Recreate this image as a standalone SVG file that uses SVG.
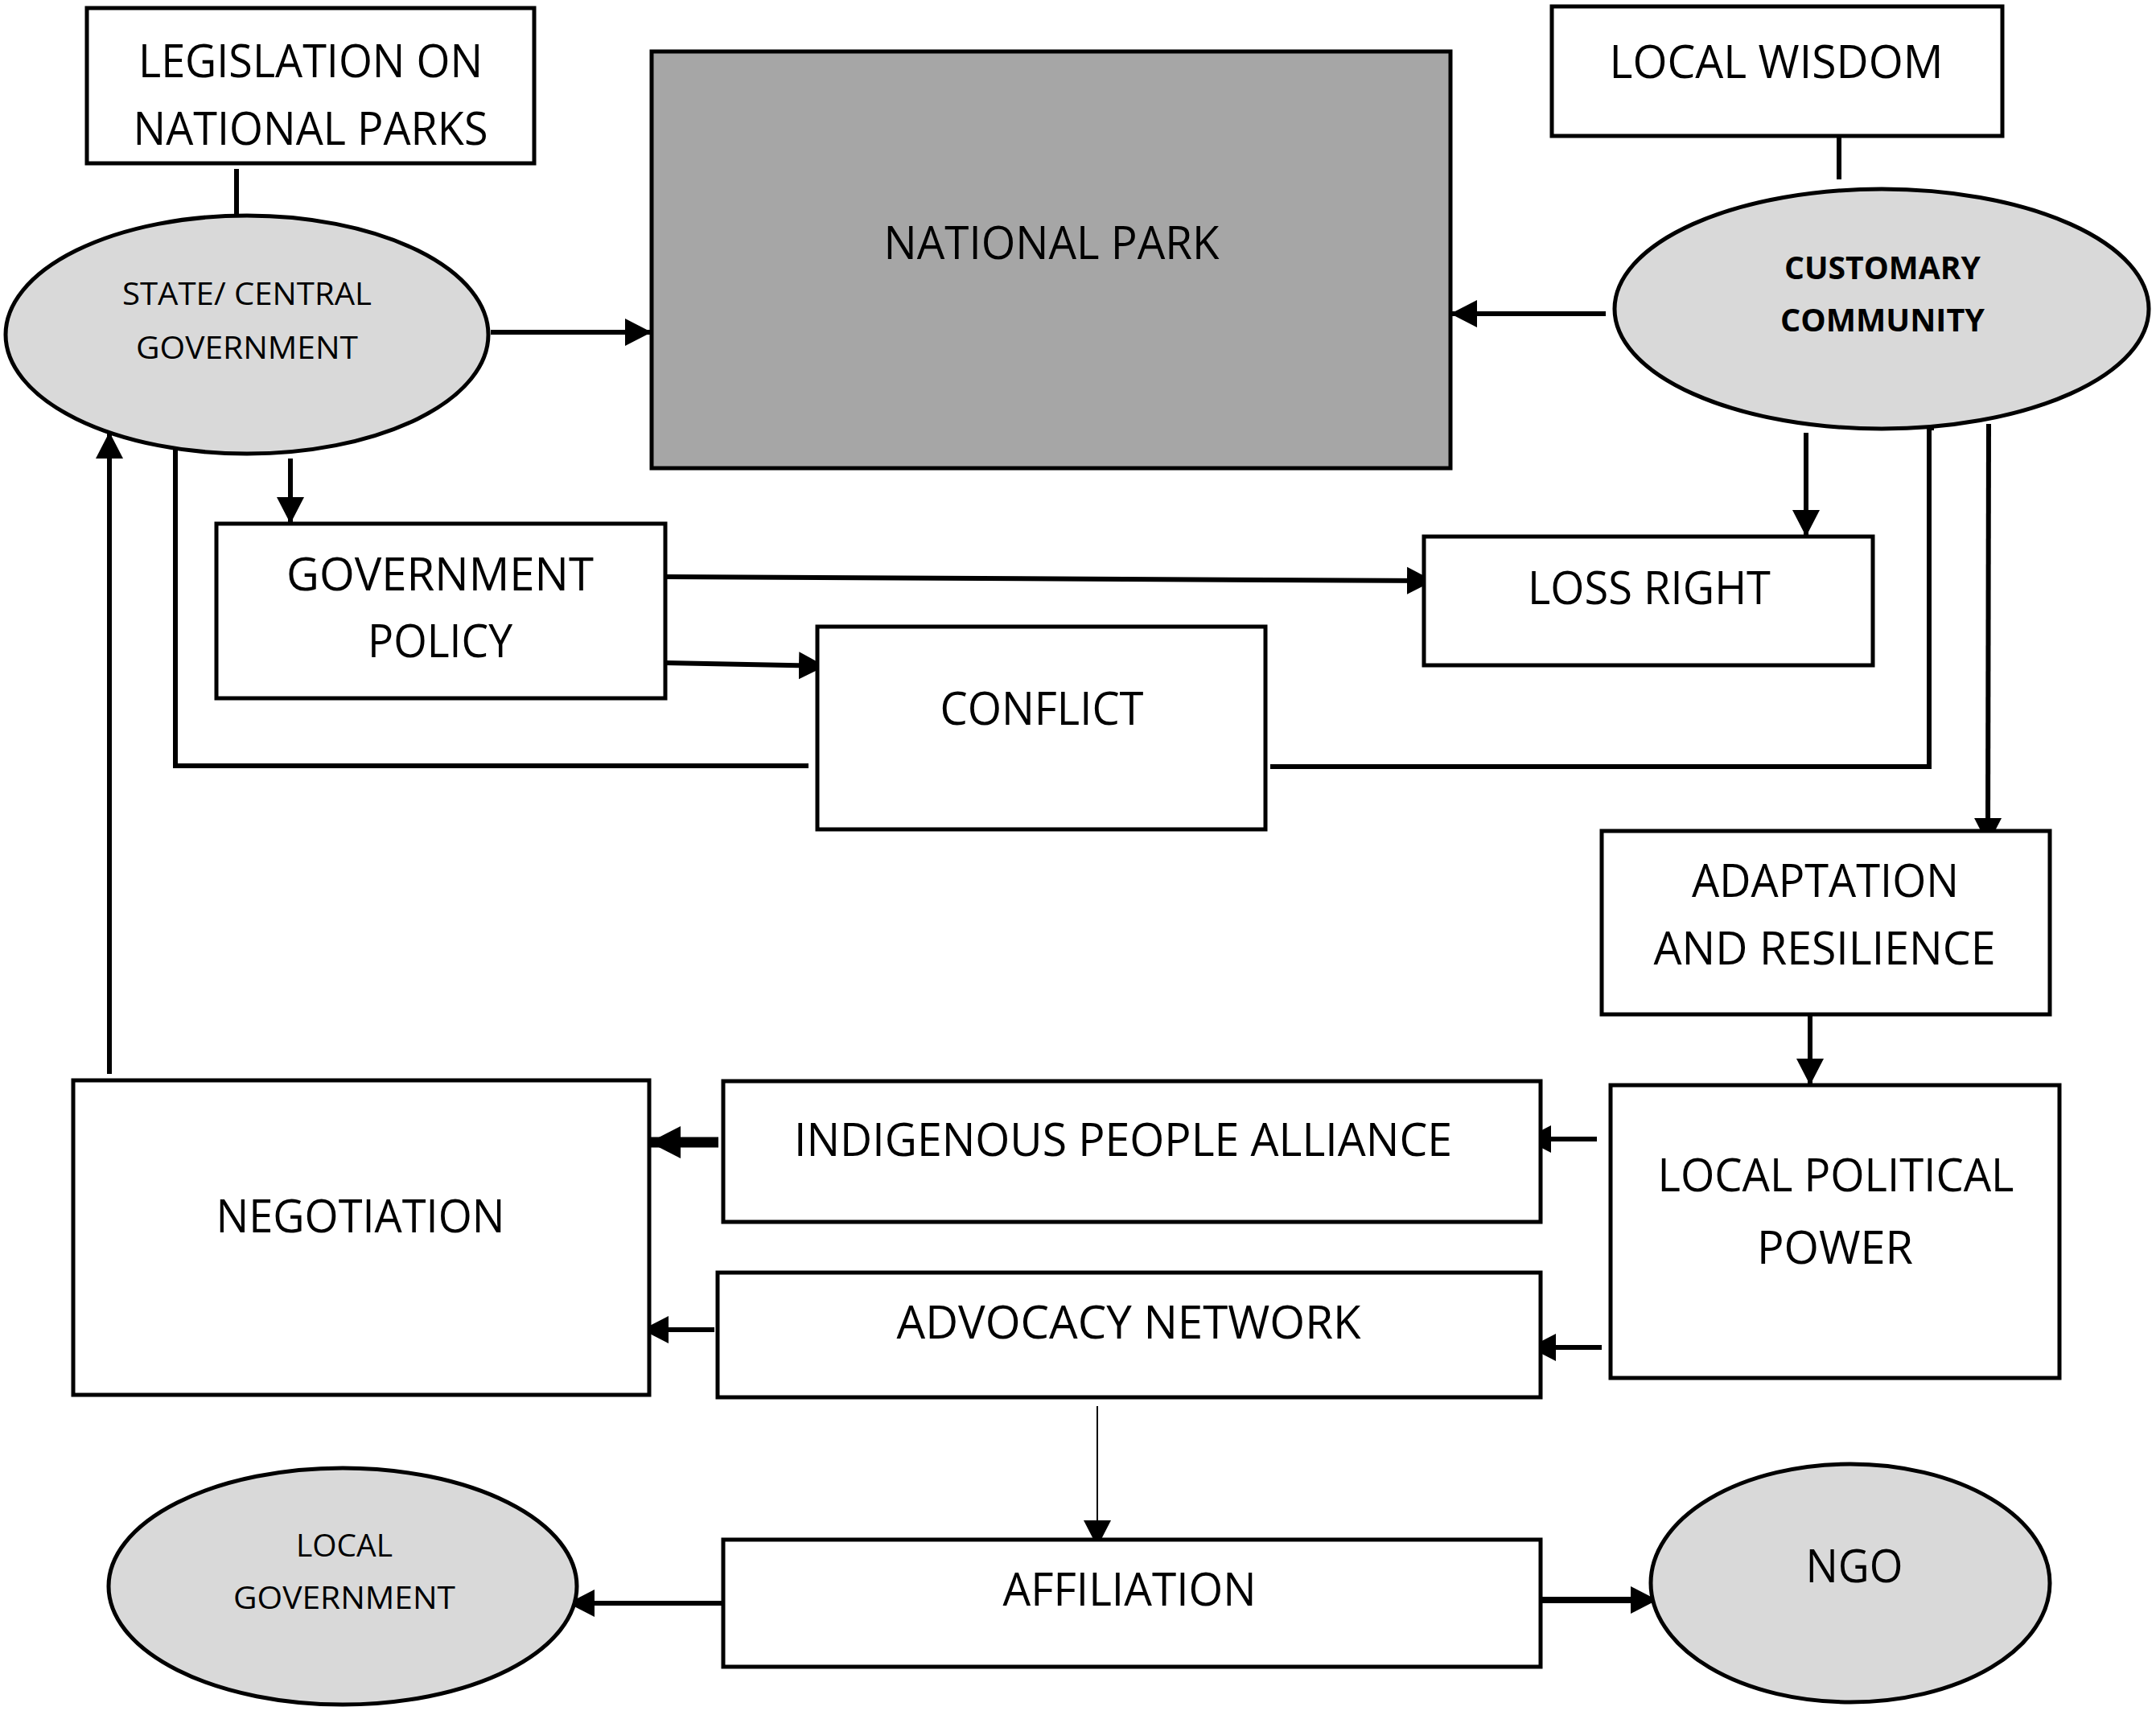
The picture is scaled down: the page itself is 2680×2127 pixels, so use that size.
<svg xmlns="http://www.w3.org/2000/svg" width="2680" height="2127" viewBox="0 0 2680 2127">
<defs>
<style>
.box{fill:#fff;stroke:#000;stroke-width:5}
.oval{fill:#d9d9d9;stroke:#000;stroke-width:5}
.park{fill:#a6a6a6;stroke:#000;stroke-width:5}
.t{font-family:"Open Sans","Noto Sans",sans-serif;font-size:57px;fill:#000;text-anchor:middle}
.s{font-family:"Open Sans","Noto Sans",sans-serif;font-size:38px;fill:#000;text-anchor:middle}
.b{font-family:"Open Sans","Noto Sans",sans-serif;font-size:39px;font-weight:bold;fill:#000;text-anchor:middle}
.c{fill:none;stroke:#000;stroke-width:6}
.a{fill:none;stroke:#000;stroke-width:6;marker-end:url(#ah)}
</style>
<marker id="ah" markerUnits="userSpaceOnUse" markerWidth="34" markerHeight="36" refX="33" refY="18" orient="auto">
<path d="M0,1 L33,18 L0,35 z" fill="#000"/>
</marker>
<marker id="ahb" markerUnits="userSpaceOnUse" markerWidth="40" markerHeight="42" refX="39" refY="21" orient="auto">
<path d="M0,1 L39,21 L0,41 z" fill="#000"/>
</marker>
</defs>
<g id="connectors">
<line class="c" x1="294" y1="210" x2="294" y2="268"/>
<line class="c" x1="2286" y1="169" x2="2286" y2="223"/>
<line class="a" x1="610" y1="413" x2="810" y2="413"/>
<line class="a" x1="1996" y1="390" x2="1803" y2="390"/>
<line class="a" x1="361" y1="570" x2="361" y2="651"/>
<line class="a" x1="827" y1="717" x2="1782" y2="722"/>
<line class="a" x1="827" y1="824" x2="1026" y2="828"/>
<line class="a" x1="2245" y1="538" x2="2245" y2="667"/>
<path class="c" d="M226,529 L218,529 L218,952 L1005,952"/>
<path class="c" d="M2404,532 L2398,532 L2398,953 L1579,953"/>
<line class="a" x1="2472" y1="527" x2="2471" y2="1050"/>
<line class="a" x1="2250" y1="1261" x2="2250" y2="1349"/>
<line class="a" x1="1985" y1="1416" x2="1895" y2="1416"/>
<line class="a" x1="1991" y1="1675" x2="1901" y2="1675"/>
<line fill="none" stroke="#000" stroke-width="13" marker-end="url(#ahb)" x1="893" y1="1420" x2="807" y2="1420"/>
<line class="a" stroke-width="8" x1="888" y1="1653" x2="798" y2="1653"/>
<line class="a" style="stroke-width:2" x1="1364" y1="1748" x2="1364" y2="1923"/>
<line class="a" x1="899" y1="1993" x2="706" y2="1993"/>
<line class="a" style="stroke-width:8" x1="1915" y1="1989" x2="2060" y2="1989"/>
<line class="a" x1="136" y1="1335" x2="136" y2="537"/>
</g>
<g id="legislation">
<rect class="box" x="108" y="10" width="556" height="193"/>
<text class="t" x="386" y="96" textLength="428" lengthAdjust="spacingAndGlyphs">LEGISLATION ON</text>
<text class="t" x="386" y="180" textLength="441" lengthAdjust="spacingAndGlyphs">NATIONAL PARKS</text>
</g>
<g id="state-government">
<ellipse class="oval" cx="307" cy="416" rx="300" ry="148"/>
<text class="s" x="307" y="379" textLength="310" lengthAdjust="spacingAndGlyphs">STATE/ CENTRAL</text>
<text class="s" x="307" y="446" textLength="276" lengthAdjust="spacingAndGlyphs">GOVERNMENT</text>
</g>
<g id="national-park">
<rect class="park" x="810" y="64" width="993" height="518"/>
<text class="t" x="1307" y="322" textLength="417" lengthAdjust="spacingAndGlyphs">NATIONAL PARK</text>
</g>
<g id="local-wisdom">
<rect class="box" x="1929" y="8" width="560" height="161"/>
<text class="t" x="2208" y="97" textLength="415" lengthAdjust="spacingAndGlyphs">LOCAL WISDOM</text>
</g>
<g id="customary-community">
<ellipse class="oval" cx="2339" cy="384" rx="332" ry="149"/>
<text class="b" x="2340" y="347" textLength="244" lengthAdjust="spacingAndGlyphs">CUSTOMARY</text>
<text class="b" x="2340" y="412" textLength="254" lengthAdjust="spacingAndGlyphs">COMMUNITY</text>
</g>
<g id="government-policy">
<rect class="box" x="269" y="651" width="558" height="217"/>
<text class="t" x="547" y="734" textLength="382" lengthAdjust="spacingAndGlyphs">GOVERNMENT</text>
<text class="t" x="547" y="817" textLength="180" lengthAdjust="spacingAndGlyphs">POLICY</text>
</g>
<g id="loss-right">
<rect class="box" x="1770" y="667" width="558" height="160"/>
<text class="t" x="2050" y="751" textLength="302" lengthAdjust="spacingAndGlyphs">LOSS RIGHT</text>
</g>
<g id="conflict">
<rect class="box" x="1016" y="779" width="557" height="252"/>
<text class="t" x="1295" y="901" textLength="253" lengthAdjust="spacingAndGlyphs">CONFLICT</text>
</g>
<g id="adaptation">
<rect class="box" x="1991" y="1033" width="557" height="228"/>
<text class="t" x="2269" y="1115" textLength="332" lengthAdjust="spacingAndGlyphs">ADAPTATION</text>
<text class="t" x="2268" y="1199" textLength="425" lengthAdjust="spacingAndGlyphs">AND RESILIENCE</text>
</g>
<g id="local-political-power">
<rect class="box" x="2002" y="1349" width="558" height="364"/>
<text class="t" x="2282" y="1481" textLength="443" lengthAdjust="spacingAndGlyphs">LOCAL POLITICAL</text>
<text class="t" x="2281" y="1571" textLength="194" lengthAdjust="spacingAndGlyphs">POWER</text>
</g>
<g id="indigenous-alliance">
<rect class="box" x="899" y="1344" width="1016" height="175"/>
<text class="t" x="1396" y="1437" textLength="818" lengthAdjust="spacingAndGlyphs">INDIGENOUS PEOPLE ALLIANCE</text>
</g>
<g id="negotiation">
<rect class="box" x="91" y="1343" width="716" height="391"/>
<text class="t" x="448" y="1532" textLength="359" lengthAdjust="spacingAndGlyphs">NEGOTIATION</text>
</g>
<g id="advocacy-network">
<rect class="box" x="892" y="1582" width="1023" height="155"/>
<text class="t" x="1403" y="1664" textLength="577" lengthAdjust="spacingAndGlyphs">ADVOCACY NETWORK</text>
</g>
<g id="affiliation">
<rect class="box" x="899" y="1914" width="1016" height="158"/>
<text class="t" x="1404" y="1996" textLength="315" lengthAdjust="spacingAndGlyphs">AFFILIATION</text>
</g>
<g id="local-government">
<ellipse class="oval" cx="426" cy="1972" rx="291" ry="147"/>
<text class="s" x="428" y="1935" textLength="120" lengthAdjust="spacingAndGlyphs">LOCAL</text>
<text class="s" x="428" y="2000" textLength="276" lengthAdjust="spacingAndGlyphs">GOVERNMENT</text>
</g>
<g id="ngo">
<ellipse class="oval" cx="2300" cy="1968" rx="248" ry="148"/>
<text class="t" x="2305" y="1967" textLength="121" lengthAdjust="spacingAndGlyphs">NGO</text>
</g>
</svg>
